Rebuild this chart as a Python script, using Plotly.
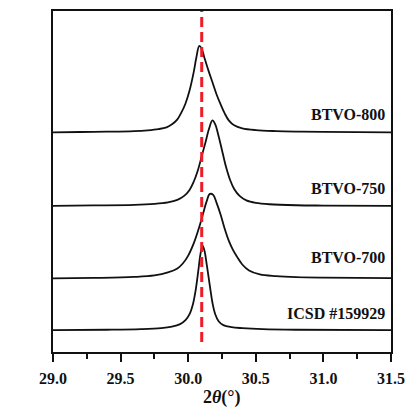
import plotly.graph_objects as go

# ---- data ----
names = ["BTVO-800", "BTVO-750", "BTVO-700", "ICSD #159929"]
offsets = [221, 147, 74, 22]

x_800 = [29.0, 29.2, 29.4, 29.6, 29.7, 29.78, 29.84, 29.88, 29.92, 29.95, 29.98, 30.01, 30.04, 30.06,
         30.082, 30.10, 30.12, 30.15, 30.18, 30.21, 30.24, 30.27, 30.30, 30.34, 30.4, 30.5, 30.65,
         30.8, 31.0, 31.5]
i_800 = [0, 0.3, 0.6, 1.2, 2, 3.2, 5, 8, 13, 20, 29, 42, 60, 75,
         87, 84, 75, 62, 50, 38, 28, 19, 12, 7, 4, 2.2, 1.2,
         0.7, 0.4, 0]

x_750 = [29.0, 29.3, 29.6, 29.75, 29.85, 29.92, 29.97, 30.01, 30.04, 30.07, 30.10, 30.13, 30.155,
         30.179, 30.20, 30.225, 30.25, 30.28, 30.31, 30.34, 30.38, 30.43, 30.5, 30.6, 30.8, 31.0, 31.5]
i_750 = [0, 0.4, 1, 2, 3.5, 6, 10, 16, 24, 35, 50, 65, 78,
         86, 82, 70, 56, 39, 26, 17, 10, 5.5, 3, 1.6, 0.6, 0.3, 0]

x_700 = [29.0, 29.3, 29.6, 29.75, 29.85, 29.92, 29.96, 30.0, 30.04, 30.08, 30.11, 30.135, 30.16,
         30.185, 30.21, 30.24, 30.27, 30.30, 30.33, 30.36, 30.40, 30.45, 30.53, 30.65, 30.8, 31.0, 31.5]
i_700 = [0, 0.5, 1.5, 3, 6, 10, 15, 23, 35, 51, 65, 77, 85,
         84, 76, 64, 50, 38, 29, 22, 14, 8, 4, 2.3, 1.3, 0.8, 0.3]

x_icsd = [29.0, 29.4, 29.65, 29.8, 29.88, 29.94, 29.98, 30.01, 30.035, 30.055, 30.075, 30.09, 30.106,
          30.12, 30.135, 30.15, 30.165, 30.18, 30.2, 30.225, 30.26, 30.32, 30.4, 30.55, 30.8, 31.5]
i_icsd = [0, 0.4, 1, 2, 3.5, 6, 10, 16, 26, 40, 60, 76, 85,
          80, 68, 54, 40, 27, 16, 9, 5, 3, 2, 1, 0.4, 0]

xs = [x_800, x_750, x_700, x_icsd]
ints = [i_800, i_750, i_700, i_icsd]
label_y = [239, 164, 95, 39]
ref_line_x = 30.1

FONT = "Liberation Serif"

fig = go.Figure()
for x, inten, off in zip(xs, ints, offsets):
    fig.add_trace(go.Scatter(
        x=x, y=[v + off for v in inten], mode="lines",
        line=dict(color="#111111", width=1.8, shape="spline", smoothing=1.0),
        showlegend=False, hoverinfo="skip"))

fig.add_shape(type="line", xref="x", yref="y", x0=ref_line_x, x1=ref_line_x, y0=10, y1=343,
              line=dict(color="#ee1c25", width=3, dash="10px,5px"))

for name, ly in zip(names, label_y):
    fig.add_annotation(x=31.47, y=ly, xref="x", yref="y", text="<b>%s</b>" % name,
                       showarrow=False, xanchor="right", yanchor="middle",
                       font=dict(family=FONT, size=16, color="#111111"))

fig.add_annotation(x=0.5, y=-0.133, xref="paper", yref="paper",
                   text="<b>2<i>θ</i>(°)</b>", showarrow=False,
                   xanchor="center", yanchor="middle",
                   font=dict(family=FONT, size=18, color="#111111"))
fig.add_annotation(x=26, y=0.51, xref="x domain", yref="paper",
                   text="<b>Intensity (<i>a.u.</i>)</b>", showarrow=False, textangle=-90,
                   xanchor="center", yanchor="middle",
                   font=dict(family=FONT, size=18, color="#111111"))

fig.update_layout(
    width=414, height=410,
    margin=dict(l=53, r=19, t=9, b=58),
    paper_bgcolor="white", plot_bgcolor="white",
    font=dict(family=FONT, color="#111111"),
    xaxis=dict(range=[29.0, 31.5], tickmode="array",
               tickvals=[29.0, 29.5, 30.0, 30.5, 31.0, 31.5],
               ticktext=["<b>29.0</b>", "<b>29.5</b>", "<b>30.0</b>", "<b>30.5</b>", "<b>31.0</b>", "<b>31.5</b>"],
               ticks="outside", ticklen=8, tickwidth=1.8, tickcolor="#111111",
               minor=dict(tickvals=[29.25, 29.75, 30.25, 30.75, 31.25], ticks="outside",
                          ticklen=5, tickwidth=1.8, tickcolor="#111111"),
               showline=True, linecolor="#111111", linewidth=2, mirror=True,
               showgrid=False, zeroline=False, ticklabelstandoff=3,
               tickfont=dict(family=FONT, size=16, color="#111111")),
    yaxis=dict(range=[0, 343], showticklabels=False, ticks="",
               showline=True, linecolor="#111111", linewidth=2, mirror=True,
               showgrid=False, zeroline=False),
)

fig.write_html("out.html")
